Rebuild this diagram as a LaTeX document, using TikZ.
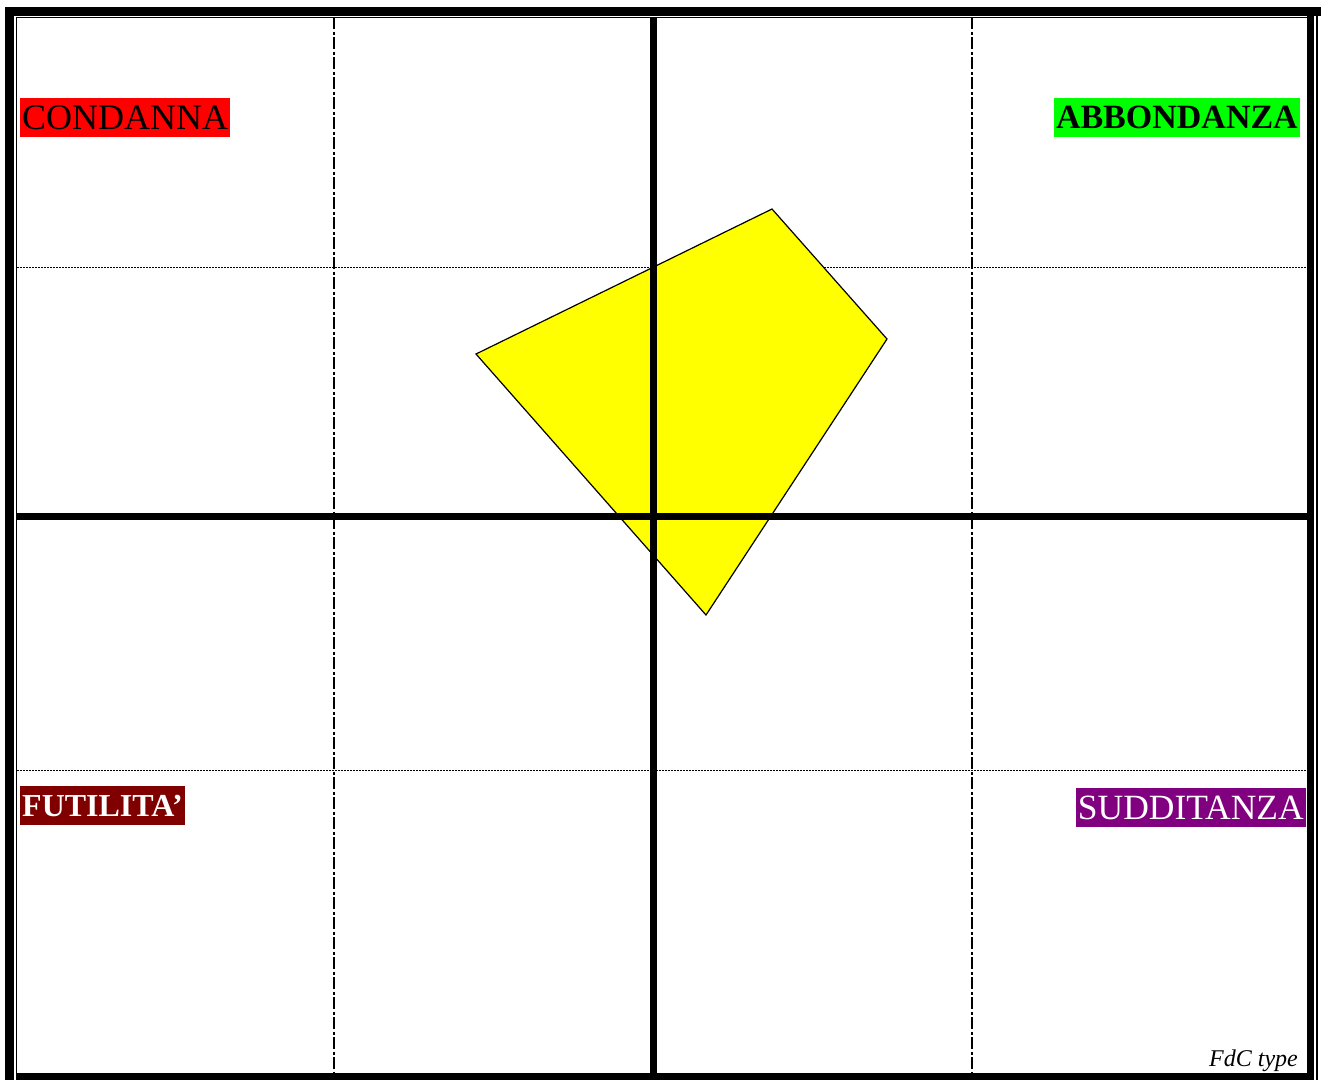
\documentclass[tikz,border=0pt]{standalone}
\usepackage{fontspec}
\setmainfont{Liberation Serif}
\definecolor{condanna}{HTML}{FF0000}
\definecolor{abbondanza}{HTML}{00FF00}
\definecolor{futilita}{HTML}{800000}
\definecolor{sudditanza}{HTML}{800080}
\definecolor{profilo}{HTML}{FFFF00}
\tikzset{
  quadtag/.style={inner xsep=2pt, inner ysep=0pt, minimum height=39pt},
  midline/.style={line width=7.5pt},
  halfline/.style={line width=2.6pt, dash pattern=on 12pt off 2.5pt on 3pt off 2.5pt},
  quarterline/.style={line width=1pt, dash pattern=on 1.5pt off 1.5pt}
}
\begin{document}
\begin{tikzpicture}[x=1pt, y=-1pt]
  \useasboundingbox (0,0) rectangle (1321,1080);
  % frame
  \draw[line width=9pt] (9.5,1080) -- (9.5,11.5) -- (1321,11.5);
  \draw[line width=1.5pt] (16.5,1073) -- (16.5,17.5) -- (1310,17.5);
  \draw[line width=7pt] (16,1076.5) -- (1310.5,1076.5) -- (1310.5,16);
  \draw[line width=1.5pt] (1317,16) -- (1317,1080);
  % grid
  \coordinate (qtl) at (17,267);
  \coordinate (qtr) at (1307,267);
  \coordinate (qbl) at (17,770);
  \coordinate (qbr) at (1307,770);
  \draw[quarterline] (qtl) -- (qtr);
  \draw[quarterline] (qbl) -- (qbr);
  % profile
  \coordinate (p1) at (476,354);
  \coordinate (p2) at (772,209);
  \coordinate (p3) at (887,339);
  \coordinate (p4) at (706,615);
  \draw[fill=profilo, line width=1.2pt] (p1) -- (p2) -- (p3) -- (p4) -- cycle;
  \coordinate (hl1) at (334,17);
  \coordinate (hl2) at (334,1073);
  \coordinate (hr1) at (972,17);
  \coordinate (hr2) at (972,1073);
  \draw[halfline] (hl1) -- (hl2);
  \draw[halfline] (hr1) -- (hr2);
  \coordinate (vt) at (653.5,17);
  \coordinate (vb) at (653.5,1073);
  \coordinate (hl) at (17,516.5);
  \coordinate (hr) at (1307,516.5);
  \draw[midline] (vt) -- (vb);
  \draw[midline] (hl) -- (hr);
  % quadrants
  \node[quadtag, fill=condanna, text=black, anchor=north west, font=\fontsize{36}{40}\selectfont] (condanna) at (20,98) {CONDANNA};
  \node[quadtag, fill=abbondanza, text=black, anchor=north east, font=\fontsize{34}{38}\selectfont\bfseries] (abbondanza) at (1300,98) {ABBONDANZA};
  \node[quadtag, fill=futilita, text=white, anchor=north west, font=\fontsize{32}{36}\selectfont\bfseries] (futilita) at (20,786) {FUTILITA’};
  \node[quadtag, fill=sudditanza, text=white, anchor=north east, font=\fontsize{35.5}{39}\selectfont] (sudditanza) at (1306,788) {SUDDITANZA};
  \node[anchor=base east, inner sep=0pt, font=\fontsize{24}{26}\selectfont\itshape] (fdc) at (1298,1066) {FdC type};
\end{tikzpicture}
\end{document}
